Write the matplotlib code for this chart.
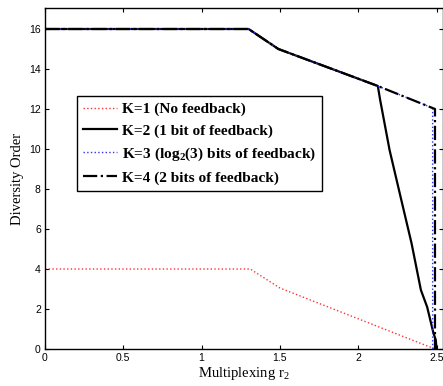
import matplotlib

matplotlib.use("Agg")
import matplotlib.pyplot as plt

# piecewise-linear diversity curves
k1_r = [0.0, 1.31, 1.5, 2.49]
k1_d = [4.0, 4.0, 3.05, 0.0]

k2_r = [0.0, 1.30, 1.49, 2.125, 2.14, 2.20, 2.275, 2.34, 2.40, 2.44, 2.48, 2.495, 2.50]
k2_d = [16.0, 16.0, 15.0, 13.15, 12.45, 9.95, 7.45, 5.3, 2.95, 2.1, 0.8, 0.45, 0.0]

k3_r = [0.0, 1.30, 1.49, 2.125, 2.475, 2.475]
k3_d = [16.0, 16.0, 15.0, 13.15, 12.05, 0.0]

k4_r = [0.0, 1.30, 1.49, 2.125, 2.49, 2.49]
k4_d = [16.0, 16.0, 15.0, 13.15, 12.0, 0.0]

labels = ["K=1 (No feedback)", "K=2 (1 bit of feedback)",
          r"K=3 (log$_2$(3) bits of feedback)", "K=4 (2 bits of feedback)"]

plt.rcParams["mathtext.fontset"] = "custom"
plt.rcParams["mathtext.rm"] = "Liberation Serif:bold"
plt.rcParams["mathtext.it"] = "Liberation Serif:bold"
plt.rcParams["mathtext.bf"] = "Liberation Serif:bold"

fig = plt.figure(figsize=(4.43, 3.86), dpi=100)
ax = fig.add_axes([45 / 443, 1 - 349 / 386, 397.5 / 443, 341 / 386])

ax.plot(k1_r, k1_d, color="#ff3030", linestyle=":", linewidth=1.0, label=labels[0])
ax.plot(k2_r, k2_d, color="black", linestyle="-", linewidth=1.6, label=labels[1])
ax.plot(k3_r, k3_d, color="#3030ff", linestyle=":", linewidth=1.0, label=labels[2])
ax.plot(k4_r, k4_d, color="black", linestyle="-.", linewidth=1.6, label=labels[3])

ax.set_xlim(0, 2.538)
ax.set_ylim(0, 17.05)
ax.set_xticks([0, 0.5, 1, 1.5, 2, 2.5])
ax.set_xticklabels(["0", "0.5", "1", "1.5", "2", "2.5"])
ax.set_yticks(range(0, 17, 2))
ax.tick_params(direction="in", top=True, right=True, length=3, labelsize=7.5, pad=3)
for lab in ax.get_xticklabels() + ax.get_yticklabels():
    lab.set_family("Liberation Sans")
for s in ax.spines.values():
    s.set_linewidth(1.0)

ax.set_xlabel(r"Multiplexing r$_\mathregular{2}$", family="Liberation Serif", fontsize=10.5, labelpad=1)
ax.set_ylabel("Diversity Order", family="Liberation Serif", fontsize=10.5, labelpad=4)

leg = ax.legend(loc="upper left", bbox_to_anchor=(0.08, 0.742), borderaxespad=0,
                fancybox=False, framealpha=1, edgecolor="black",
                handlelength=2.2, handletextpad=0.3, labelspacing=0.5, borderpad=0.4,
                prop={"family": "Liberation Serif", "weight": "bold", "size": 11.1})
leg.get_frame().set_linewidth(1.0)

plt.savefig("out.png", dpi=100)
plt.close(fig)
